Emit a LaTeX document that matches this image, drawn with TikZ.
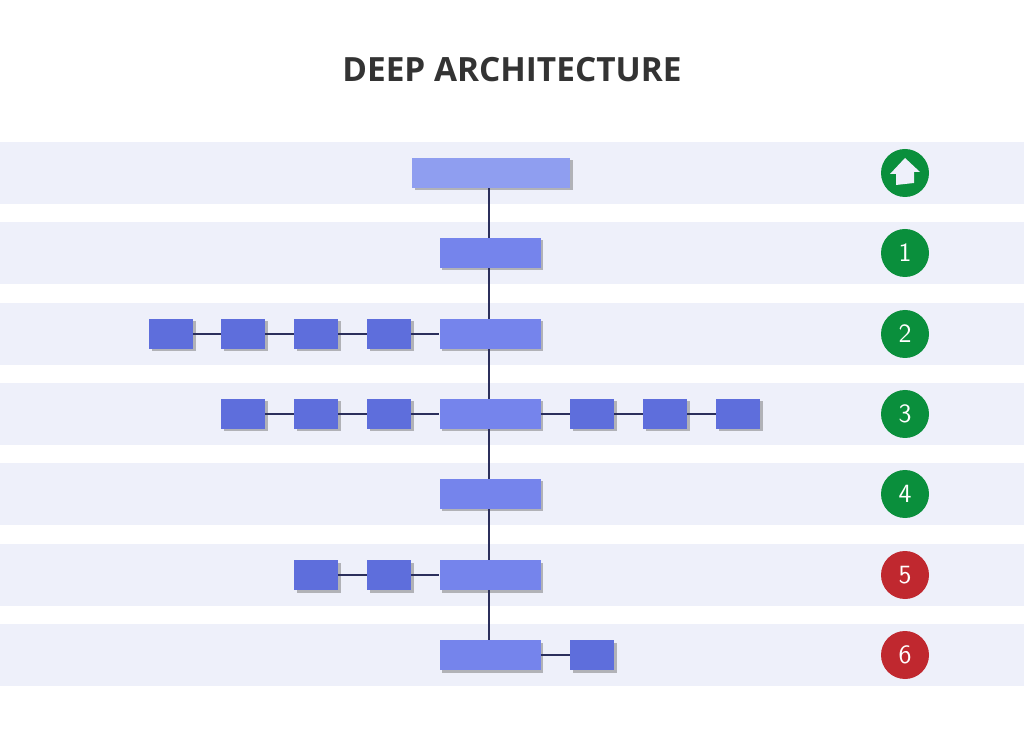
\documentclass[tikz,border=0pt]{standalone}
\usepackage{fontspec}
\setmainfont{Open Sans}
\usetikzlibrary{shadows,positioning}
\definecolor{band}{HTML}{EEF0FA}
\definecolor{topbox}{HTML}{8F9EF0}
\definecolor{mainbox}{HTML}{7584EC}
\definecolor{smallbox}{HTML}{5E6EDC}
\definecolor{link}{HTML}{2B2F5C}
\definecolor{okgreen}{HTML}{0A8F3C}
\definecolor{badred}{HTML}{C0282F}
\tikzset{
  box/.style={draw=none, minimum height=30*0.02cm, inner sep=0pt,
    drop shadow={shadow xshift=0.05cm, shadow yshift=-0.05cm, opacity=0.55}},
  main/.style={box, fill=mainbox, minimum width=101*0.02cm},
  small/.style={box, fill=smallbox, minimum width=44*0.02cm},
  badge/.style={circle, minimum size=48*0.02cm, inner sep=0pt, text=white,
    font=\sffamily\fontsize{15}{15}\selectfont},
  link/.style={draw=link, line width=1.2pt}
}
\begin{document}
\begin{tikzpicture}[x=0.02cm, y=-0.02cm]
		% Canvas and bands
		\useasboundingbox (0,0) rectangle (1024,739);
		\fill[white] (0,0) rectangle (1024,739);
		\foreach \yc in {173,253,334,414,494,575,655}
			\fill[band] (0,\yc-31) rectangle (1024,\yc+31);

		\node[font=\bfseries\fontsize{19}{19}\selectfont, text=black!80] (title) at (512,70) {DEEP ARCHITECTURE};

		% Spine boxes
		\node[box, fill=topbox, minimum width=158*0.02cm] (R0) at (491,173) {};
		\node[main] (R1) at (490,253) {};
		\node[main] (R2) at (490,334) {};
		\node[main] (R3) at (490,414) {};
		\node[main] (R4) at (490,494) {};
		\node[main] (R5) at (490,575) {};
		\node[main] (R6) at (490,655) {};

		% Side boxes
		\node[small] (A1) at (171,334) {};
		\node[small] (A2) at (243,334) {};
		\node[small] (A3) at (316,334) {};
		\node[small] (A4) at (389,334) {};

		\node[small] (B1) at (243,414) {};
		\node[small] (B2) at (316,414) {};
		\node[small] (B3) at (389,414) {};
		\node[small] (B4) at (592,414) {};
		\node[small] (B5) at (665,414) {};
		\node[small] (B6) at (738,414) {};

		\node[small] (C1) at (316,575) {};
		\node[small] (C2) at (389,575) {};

		\node[small] (D1) at (592,655) {};

		% Connect the boxes
		\begin{scope}[on background layer/.style={}]
		\end{scope}
		\foreach \a/\b in {R0/R1,R1/R2,R2/R3,R3/R4,R4/R5,R5/R6}
			\draw[link] (\a.south -| 489,0) -- (\b.north -| 489,0);
		\foreach \a/\b in {A1/A2,A2/A3,A3/A4,A4/R2,B1/B2,B2/B3,B3/R3,R3/B4,B4/B5,B5/B6,C1/C2,C2/R5,R6/D1}
			\draw[link] (\a.east) -- (\b.west);

		% Badges
		\node[badge, fill=okgreen] (S0) at (905,173) {};
		\fill[band] ([xshift=-9*0.02cm, yshift=-12*0.02cm]S0.center) -- ++(0,-11) -- ++(-6,0)
			-- ([yshift=15*0.02cm]S0.center) -- ([xshift=15*0.02cm, yshift=1*0.02cm]S0.center)
			-- ++(-6,0) -- ++(0,11) -- cycle;
		\node[badge, fill=okgreen] (S1) at (905,253) {1};
		\node[badge, fill=okgreen] (S2) at (905,334) {2};
		\node[badge, fill=okgreen] (S3) at (905,414) {3};
		\node[badge, fill=okgreen] (S4) at (905,494) {4};
		\node[badge, fill=badred] (S5) at (905,575) {5};
		\node[badge, fill=badred] (S6) at (905,655) {6};
\end{tikzpicture}
\end{document}
